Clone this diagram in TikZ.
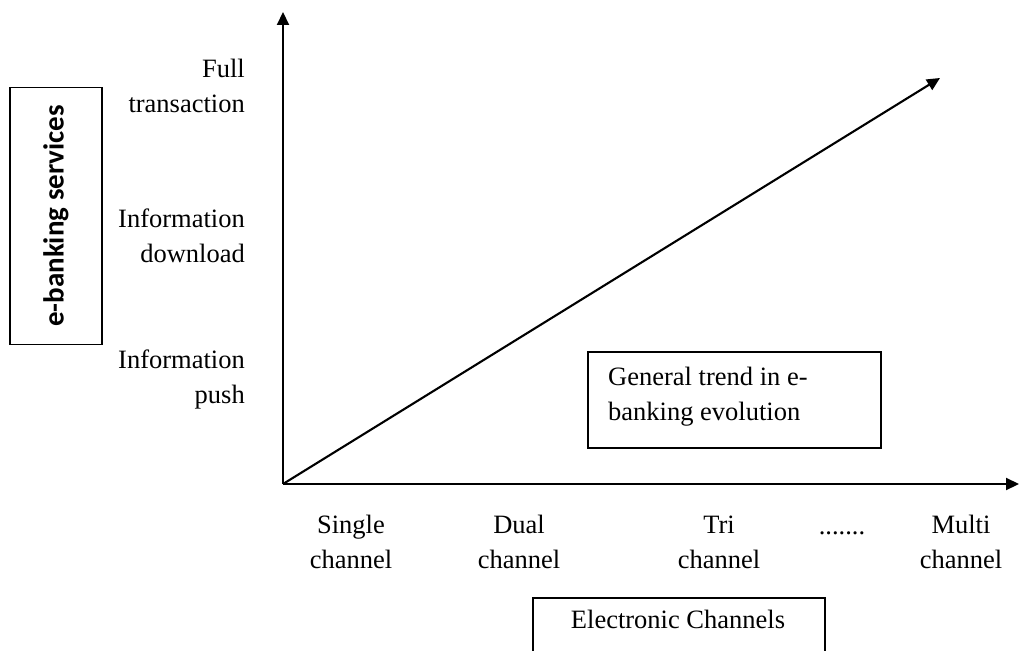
\documentclass[tikz,border=0pt]{standalone}
\usepackage{fontspec}
\setmainfont{Liberation Serif}
\newfontfamily\boxsans{Carlito}
\usetikzlibrary{arrows.meta}
\tikzset{
  axis/.style={line width=2.1pt, -{Triangle[length=13pt,width=12pt]}},
  lab/.style={font=\fontsize{26.5}{35}\selectfont, inner sep=0pt},
  framebox/.style={draw, line width=1.8pt, inner sep=0pt}
}
\begin{document}
\begin{tikzpicture}[x=1pt,y=-1pt]
\clip (0,0) rectangle (1019,650);
\fill[white] (0,0) rectangle (1019,650);
% axes
\coordinate (O) at (283,484);
\coordinate (ytip) at (283,12);
\coordinate (xtip) at (1019,484);
\coordinate (dtip) at (940,78);
\draw[axis] (O) -- (ytip);
\draw[axis] (O) -- (xtip);
\draw[axis] (O) -- (dtip);
% y labels (anchor at baseline of the last line)
\node[lab, align=right, anchor=base east] (full) at (245,113) {Full\\transaction};
\node[lab, align=right, anchor=base east] (down) at (245,262) {Information\\download};
\node[lab, align=right, anchor=base east] (push) at (245,403) {Information\\push};
% y title box
\node[framebox, rotate=90, minimum width=257pt, minimum height=92pt,
      font=\boxsans\bfseries\fontsize{29}{34}\selectfont] (ebank) at (56,216) {e-banking services};
% x labels
\node[lab, align=center, anchor=base] (single) at (351,568) {Single\\channel};
\node[lab, align=center, anchor=base] (dual) at (519,568) {Dual\\channel};
\node[lab, align=center, anchor=base] (tri) at (719,568) {Tri\\channel};
\node[lab, anchor=base] (dots) at (842,534) {.......};
\node[lab, align=center, anchor=base] (multi) at (961,568) {Multi\\channel};
% trend box
\node[framebox, anchor=north west, minimum width=293pt, minimum height=96pt] (trend) at (587,351) {};
\node[lab, align=left, anchor=base west] (trendtxt) at (608,420) {General trend in e-\\banking evolution};
% x title box (cut off at bottom)
\node[framebox, anchor=north west, minimum width=292pt, minimum height=80pt] (elec) at (532,597) {};
\node[lab, anchor=base] (electxt) at (678,628) {Electronic Channels};
\end{tikzpicture}
\end{document}
